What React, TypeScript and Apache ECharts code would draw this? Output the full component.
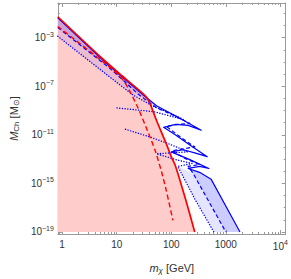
import React, { useEffect, useRef } from "react";
import * as echarts from "echarts";

// Axis ranges in log10 units (m in GeV, M in solar masses)
const X_MIN = -0.078;
const X_MAX = 4.098;
const Y_MIN = -19.17;
const Y_MAX = -0.137;
const Y_FLOOR = -19.0;

const xMajorTicks = [0, 1, 2, 3, 4];
const xTickLabels = ["1", "10", "100", "1000", "10^4"];
const yMajorTicks = [-3, -7, -11, -15, -19];
const yTickLabels = ["10^−3", "10^−7", "10^−11", "10^−15", "10^−19"];

// Red solid curve
const redSolidX = [-0.08, 0.74, 1.09, 1.51, 1.59, 1.73, 1.91, 2.0, 2.08, 2.26, 2.43];
const redSolidY = [-1.27, -4.73, -6.11, -7.72, -8.2, -9.82, -11.75, -12.8, -13.6, -16.27, -19.0];

// Red dashed curve
const redDashX = [-0.08, 0.86, 1.09, 1.21, 1.39, 1.56, 1.7, 1.82, 1.91, 2.03];
const redDashY = [-2.07, -5.38, -6.35, -7.15, -8.77, -10.62, -12.23, -14.01, -15.62, -18.04];

// Blue solid curve (with teeth)
const blueSolidX = [-0.08, 0.74, 1.09, 1.51, 1.73, 2.13, 2.55, 2.31, 2.08, 1.86, 2.08, 2.34, 2.66, 2.43, 2.22, 2.0, 2.34, 2.69, 2.52, 2.31, 2.52, 2.73, 3.26];
const blueSolidY = [-1.35, -4.81, -6.19, -7.8, -8.6, -9.57, -10.62, -10.22, -10.14, -10.38, -11.02, -11.83, -12.8, -12.48, -12.23, -12.4, -13.04, -13.77, -13.6, -13.77, -14.09, -14.65, -19.0];

// Blue dashed curve
const blueDashX = [-0.08, 0.86, 1.12, 1.39, 1.73, 2.05, 2.34, 2.12, 1.91, 2.17, 2.43, 2.22, 2.01, 2.26, 2.52, 2.31, 2.4, 3.0];
const blueDashY = [-2.15, -5.46, -6.51, -7.64, -8.77, -9.41, -10.06, -10.14, -10.3, -11.19, -11.99, -12.15, -12.31, -12.96, -13.44, -13.6, -14.17, -19.0];

// Blue dotted curves
const blueDot1X = [-0.08, 0.86, 1.3, 1.65, 2.0, 2.22, 1.68, 0.98];
const blueDot1Y = [-2.88, -6.19, -7.72, -8.6, -9.25, -9.73, -9.09, -8.77];
const blueDot2X = [1.16, 1.56, 1.96, 2.31, 2.0, 1.73, 2.08, 2.38, 2.12, 2.43, 2.78];
const blueDot2Y = [-10.54, -11.1, -11.75, -12.4, -12.48, -12.56, -13.04, -13.36, -13.6, -16.27, -19.0];

const pairs = (xs: number[], ys: number[]) => xs.map((x, i) => [x, ys[i]]);

const FONT = "Liberation Sans, Arial, sans-serif";
const LABEL_COLOR = "#333";
const FRAME = "#9a9a9a";

const supRich = {
  b: { fontSize: 10, fontFamily: FONT, color: LABEL_COLOR },
  s: { fontSize: 7, fontFamily: FONT, color: LABEL_COLOR, padding: [0, 0, 7, 0] },
};

const toRich = (label: string) => {
  const i = label.indexOf("^");
  if (i < 0) return `{b|${label}}`;
  return `{b|${label.slice(0, i)}}{s|${label.slice(i + 1)}}`;
};

const xMinorTicks: number[] = [Math.log10(0.9)];
for (let n = 0; n < 4; n++) for (let k = 2; k <= 9; k++) xMinorTicks.push(n + Math.log10(k));
const yMinorTicks: number[] = [];
for (let v = -19; v <= -1; v++) if (!yMajorTicks.includes(v)) yMinorTicks.push(v);

export default function App() {
  const ref = useRef<HTMLDivElement>(null);
  useEffect(() => {
    const chart = echarts.init(ref.current!, null, { renderer: "svg" });

    const rs = pairs(redSolidX, redSolidY);
    const rd = pairs(redDashX, redDashY);
    const bs = pairs(blueSolidX, blueSolidY);
    const bd = pairs(blueDashX, blueDashY);
    const d1 = pairs(blueDot1X, blueDot1Y);
    const d2 = pairs(blueDot2X, blueDot2Y);

    const pinkPoly = [...rs, [redSolidX[redSolidX.length - 1], Y_FLOOR], [X_MIN - 0.01, Y_FLOOR]];
    const upperMed = [...bs.slice(0, 5), ...bd.slice(0, 5).reverse()];
    const upperLight = [...bd.slice(0, 4), ...d1.slice(0, 3).reverse()];
    const tailMed = [...bs.slice(19), ...bd.slice(16).reverse()];
    const tailLight = [...bd.slice(16), ...d2.slice(8).reverse()];

    const poly = (pts: number[][], color: string, z: number) => ({
      type: "custom",
      coordinateSystem: "cartesian2d",
      xAxisIndex: 0,
      yAxisIndex: 0,
      silent: true,
      clip: true,
      z,
      data: [[1, -10]],
      renderItem: (_p: any, api: any) => ({
        type: "polygon",
        shape: { points: pts.map((p) => api.coord(p)) },
        style: { fill: color, stroke: "none" },
      }),
    });

    const line = (data: number[][], color: string, width: number, type: any, z: number, cap = "butt", smooth: any = false) => ({
      type: "line",
      data,
      showSymbol: false,
      symbol: "none",
      silent: true,
      clip: true,
      smooth,
      z,
      lineStyle: { color, width, type, cap, join: "round" },
    });

    const baseAxis = {
      type: "value",
      splitLine: { show: false },
    };

    const xCommon = { ...baseAxis, min: X_MIN, max: X_MAX };
    const yCommon = { ...baseAxis, min: Y_MIN, max: Y_MAX };

    const option: any = {
      animation: false,
      grid: { left: 46, right: 5.3, top: 3, bottom: 40, containLabel: false },
      xAxis: [
        {
          ...xCommon,
          position: "bottom",
          axisLine: { show: true, onZero: false, lineStyle: { color: FRAME, width: 1 } },
          axisTick: { show: true, inside: true, length: 4, customValues: xMajorTicks, lineStyle: { color: FRAME } },
          axisLabel: {
            show: true,
            customValues: xMajorTicks,
            margin: 5,
            formatter: (v: number) => toRich(xTickLabels[xMajorTicks.indexOf(Math.round(v))] ?? ""),
            rich: supRich,
          },
          name: "{i|m}{sub|χ}{n| [GeV]}",
          nameLocation: "middle",
          nameGap: 27,
          nameTextStyle: {
            rich: {
              i: { fontSize: 11, fontStyle: "italic", fontFamily: FONT, color: LABEL_COLOR },
              sub: { fontSize: 8, fontStyle: "italic", fontFamily: FONT, color: LABEL_COLOR, padding: [5, 0, 0, 0] },
              n: { fontSize: 11, fontFamily: FONT, color: LABEL_COLOR },
            },
          },
        },
        {
          ...xCommon,
          position: "bottom",
          axisLine: { show: false, onZero: false },
          axisTick: { show: true, inside: true, length: 2, customValues: xMinorTicks, lineStyle: { color: FRAME } },
          axisLabel: { show: false },
        },
        {
          ...xCommon,
          position: "top",
          axisLine: { show: true, onZero: false, lineStyle: { color: FRAME, width: 1 } },
          axisTick: { show: true, inside: true, length: 4, customValues: xMajorTicks, lineStyle: { color: FRAME } },
          axisLabel: { show: false },
        },
        {
          ...xCommon,
          position: "top",
          axisLine: { show: false, onZero: false },
          axisTick: { show: true, inside: true, length: 2, customValues: xMinorTicks, lineStyle: { color: FRAME } },
          axisLabel: { show: false },
        },
      ],
      yAxis: [
        {
          ...yCommon,
          position: "left",
          axisLine: { show: true, onZero: false, lineStyle: { color: FRAME, width: 1 } },
          axisTick: { show: true, inside: true, length: 4, customValues: yMajorTicks, lineStyle: { color: FRAME } },
          axisLabel: {
            show: true,
            customValues: yMajorTicks,
            margin: 4,
            formatter: (v: number) => toRich(yTickLabels[yMajorTicks.indexOf(Math.round(v))] ?? ""),
            rich: supRich,
          },
          name: "{i|M}{sub|Ch}{n| [M}{sub2|⊙}{n|]}",
          nameLocation: "middle",
          nameGap: 31,
          nameRotate: 90,
          nameTextStyle: {
            rich: {
              i: { fontSize: 11, fontStyle: "italic", fontFamily: FONT, color: LABEL_COLOR },
              sub: { fontSize: 8, fontFamily: FONT, color: LABEL_COLOR, padding: [5, 0, 0, 0] },
              sub2: { fontSize: 8, fontFamily: FONT, color: LABEL_COLOR, padding: [5, 0, 0, 0] },
              n: { fontSize: 11, fontFamily: FONT, color: LABEL_COLOR },
            },
          },
        },
        {
          ...yCommon,
          position: "left",
          axisLine: { show: false, onZero: false },
          axisTick: { show: true, inside: true, length: 2, customValues: yMinorTicks, lineStyle: { color: FRAME } },
          axisLabel: { show: false },
        },
        {
          ...yCommon,
          position: "right",
          axisLine: { show: true, onZero: false, lineStyle: { color: FRAME, width: 1 } },
          axisTick: { show: true, inside: true, length: 4, customValues: yMajorTicks, lineStyle: { color: FRAME } },
          axisLabel: { show: false },
        },
        {
          ...yCommon,
          position: "right",
          axisLine: { show: false, onZero: false },
          axisTick: { show: true, inside: true, length: 2, customValues: yMinorTicks, lineStyle: { color: FRAME } },
          axisLabel: { show: false },
        },
      ],
      series: [
        poly(pinkPoly, "rgb(255,204,204)", 1),
        poly(upperLight, "rgba(0,0,255,0.08)", 2),
        poly(upperMed, "rgba(0,0,255,0.2)", 2),
        poly(tailLight, "rgba(0,0,255,0.1)", 2),
        poly(tailMed, "rgba(0,0,255,0.2)", 2),
        line(d1, "#0000ff", 1.4, [0.1, 2.6], 4, "round"),
        line(d2, "#0000ff", 1.4, [0.1, 2.6], 4, "round"),
        line(bd, "#0000ff", 1.2, [4, 2.5], 4),
        line(bs, "#0000ff", 1.2, "solid", 5),
        line(rd, "#ff0000", 1.4, [5, 3], 6, "butt", 0.25),
        line(rs, "#ff0000", 1.7, "solid", 7, "butt", 0.25),
      ],
    };

    chart.setOption(option);
    return () => chart.dispose();
  }, []);

  return <div ref={ref} style={{ position: "absolute", left: 0, top: 0, width: 291, height: 279 }} />;
}
